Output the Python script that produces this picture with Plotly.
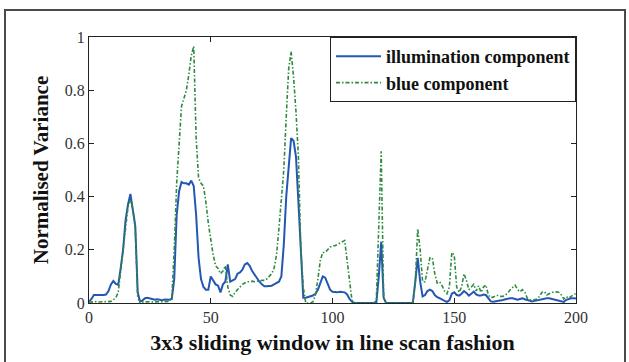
import plotly.graph_objects as go

# window index along the line scan
window = list(range(0, 201))

# normalised variance of the illumination component, one value per window
illumination = [
    0.005, 0.015, 0.03, 0.03, 0.028, 0.028, 0.03, 0.032, 0.045, 0.07,
    0.083, 0.072, 0.068, 0.13, 0.2, 0.31, 0.37, 0.41, 0.34, 0.29,
    0.04, 0.005, 0.01, 0.018, 0.02, 0.018, 0.015, 0.012, 0.014, 0.012,
    0.01, 0.013, 0.012, 0.012, 0.015, 0.09, 0.33, 0.42, 0.455, 0.45,
    0.45, 0.445, 0.46, 0.44, 0.33, 0.17, 0.09, 0.06, 0.05, 0.05,
    0.1, 0.085, 0.07, 0.065, 0.04, 0.07, 0.08, 0.145, 0.08, 0.085,
    0.09, 0.11, 0.115, 0.125, 0.145, 0.15, 0.14, 0.12, 0.105, 0.09,
    0.08, 0.07, 0.063, 0.063, 0.063, 0.065, 0.07, 0.075, 0.08, 0.1,
    0.22, 0.4, 0.52, 0.62, 0.61, 0.55, 0.38, 0.2, 0.02, 0.02,
    0.022, 0.025, 0.028, 0.035, 0.05, 0.075, 0.1, 0.095, 0.07, 0.05,
    0.042, 0.04, 0.04, 0.042, 0.042, 0.04, 0.032, 0.015, 0.005, 0.0,
    0.0, 0.0, 0.0, 0.0, 0.0, 0.0, 0.0, 0.0, 0.0, 0.1,
    0.23, 0.02, 0.0, 0.0, 0.0, 0.0, 0.0, 0.0, 0.0, 0.0,
    0.0, 0.0, 0.0, 0.0, 0.08, 0.17, 0.08, 0.025, 0.03, 0.045,
    0.05, 0.045, 0.03, 0.022, 0.018, 0.012, 0.008, 0.004, 0.01, 0.035,
    0.04, 0.03, 0.028, 0.035, 0.045, 0.038, 0.028, 0.035, 0.043, 0.032,
    0.028, 0.028, 0.032, 0.03, 0.02, 0.006, 0.005, 0.006, 0.008, 0.01,
    0.011, 0.014, 0.017, 0.018, 0.018, 0.015, 0.012, 0.015, 0.018, 0.014,
    0.011, 0.008, 0.006, 0.008, 0.01, 0.011, 0.013, 0.017, 0.018, 0.018,
    0.016, 0.014, 0.012, 0.01, 0.007, 0.004, 0.012, 0.015, 0.018, 0.018,
    0.017,
]

# normalised variance of the blue component, one value per window
blue = [
    0.003, 0.004, 0.005, 0.005, 0.004, 0.005, 0.006, 0.005, 0.005, 0.006,
    0.012, 0.02, 0.04, 0.12, 0.2, 0.3, 0.36, 0.39, 0.35, 0.28,
    0.02, 0.003, 0.004, 0.005, 0.006, 0.005, 0.004, 0.005, 0.006, 0.005,
    0.005, 0.006, 0.005, 0.006, 0.02, 0.2, 0.45, 0.62, 0.74, 0.77,
    0.8, 0.86, 0.93, 0.965, 0.62, 0.47, 0.45, 0.44, 0.38, 0.3,
    0.24, 0.18, 0.14, 0.13, 0.11, 0.12, 0.14, 0.06, 0.03, 0.025,
    0.04, 0.05, 0.06, 0.07, 0.075, 0.08, 0.08, 0.082, 0.08, 0.082,
    0.083, 0.085, 0.085, 0.09, 0.1, 0.11, 0.13, 0.18, 0.28, 0.4,
    0.5, 0.7, 0.88, 0.945, 0.85, 0.72, 0.55, 0.2, 0.06, 0.0,
    0.0, 0.0, 0.005, 0.03, 0.09, 0.16, 0.19, 0.19, 0.2, 0.21,
    0.215, 0.215, 0.22, 0.225, 0.23, 0.235, 0.16, 0.08, 0.01, 0.0,
    0.0, 0.0, 0.0, 0.0, 0.0, 0.0, 0.0, 0.0, 0.01, 0.28,
    0.57, 0.02, 0.0, 0.0, 0.0, 0.0, 0.0, 0.0, 0.0, 0.0,
    0.0, 0.0, 0.0, 0.0, 0.08, 0.28, 0.2, 0.08, 0.08, 0.12,
    0.17, 0.17, 0.11, 0.075, 0.08, 0.065, 0.045, 0.035, 0.06, 0.19,
    0.18, 0.06, 0.04, 0.06, 0.11, 0.085, 0.05, 0.06, 0.07, 0.045,
    0.065, 0.04, 0.06, 0.068, 0.03, 0.02, 0.022, 0.028, 0.028, 0.025,
    0.025, 0.03, 0.038, 0.05, 0.06, 0.067, 0.05, 0.042, 0.05, 0.04,
    0.018, 0.012, 0.01, 0.012, 0.015, 0.025, 0.04, 0.043, 0.03, 0.035,
    0.04, 0.042, 0.042, 0.04, 0.03, 0.015, 0.024, 0.018, 0.025, 0.032,
    0.036,
]

x_ticks = [0, 50, 100, 150, 200]
x_tick_labels = ["0", "50", "100", "150", "200"]
y_ticks = [0, 0.2, 0.4, 0.6, 0.8, 1]
y_tick_labels = ["0", "0.2", "0.4", "0.6", "0.8", "1"]

SERIF = "Liberation Serif, Times New Roman, serif"

fig = go.Figure()
fig.add_trace(go.Scatter(
    x=window, y=illumination, mode="lines",
    name="<b>illumination component</b>",
    line=dict(color="#2457b3", width=2),
))
fig.add_trace(go.Scatter(
    x=window, y=blue, mode="lines",
    name="<b>blue component</b>",
    line=dict(color="#2e8b3e", width=1.6, dash="4px,2px,1.5px,2px"),
))

axis_common = dict(
    showline=True, linecolor="#222", linewidth=1, mirror="ticks",
    ticks="inside", ticklen=5, tickcolor="#222", showgrid=False,
    zeroline=False, tickfont=dict(family=SERIF, size=16, color="#333"),
)

fig.update_xaxes(
    range=[0, 200], tickvals=x_ticks, ticktext=x_tick_labels,
    title=dict(text="<b>3x3 sliding window in line scan fashion</b>",
               font=dict(family=SERIF, size=22, color="#111"), standoff=9),
    **axis_common,
)
fig.update_yaxes(
    range=[0, 1], tickvals=y_ticks, ticktext=y_tick_labels,
    title=dict(text="<b>Normalised Variance</b>",
               font=dict(family=SERIF, size=21, color="#111"), standoff=10),
    **axis_common,
)

# outer frame around the figure
fig.add_shape(
    type="rect", xref="paper", yref="paper",
    x0=(5 - 89) / 487, x1=(625 - 89) / 487,
    y0=(303 - 380) / 266, y1=(303 - 10) / 266,
    line=dict(color="#4a4a4a", width=2), fillcolor="rgba(0,0,0,0)",
    layer="below",
)

fig.update_layout(
    width=629, height=362,
    margin=dict(l=89, r=53, t=37, b=59),
    paper_bgcolor="white", plot_bgcolor="white",
    showlegend=True,
    legend=dict(
        x=1, y=1, xanchor="right", yanchor="top",
        bgcolor="white", bordercolor="#222", borderwidth=1,
        font=dict(family=SERIF, size=18, color="#111"),
        itemwidth=45, tracegroupgap=0,
    ),
)

fig.write_html("out.html")
